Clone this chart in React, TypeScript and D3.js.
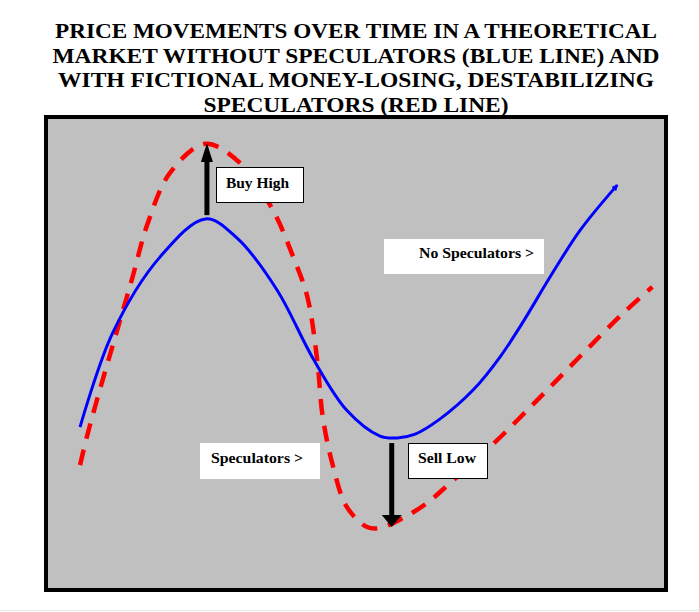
import React from "react";
import * as d3 from "d3";

const titleLines = [
  "PRICE MOVEMENTS OVER TIME IN A THEORETICAL",
  "MARKET WITHOUT SPECULATORS (BLUE LINE) AND",
  "WITH FICTIONAL MONEY-LOSING, DESTABILIZING",
  "SPECULATORS (RED LINE)",
];
const titleWidths = [602, 607, 596, 305];

// No speculators (blue) — time, price
const blueTime = [5.2, 10.5, 18.2, 25.6, 30.7, 37.2, 43.0, 48.5, 53.9, 56.7, 59.6, 63.6, 69.0, 73.4, 77.1, 81.5, 86.4, 92.4];
const bluePrice = [34.3, 54.4, 70.6, 78.7, 74.6, 63.5, 49.0, 37.9, 32.4, 32.0, 32.8, 36.0, 42.2, 49.3, 56.7, 66.3, 76.3, 85.9];

// Speculators (red)
const redTime = [5.2, 6.3, 8.4, 10.9, 13.6, 16.2, 19.8, 25.5, 31.2, 36.5, 39.8, 42.1, 43.7, 44.6, 46.3, 48.5, 51.8, 53.9, 57.6, 61.5, 65.3, 71.8, 79.9, 86.9, 92.9, 98.1];
const redPrice = [26.2, 32.2, 42.2, 53.5, 65.7, 77.8, 88.5, 94.7, 90.6, 80.6, 70.6, 62.1, 48.6, 36.5, 25.8, 17.3, 13.0, 12.8, 14.9, 18.1, 22.4, 30.1, 40.7, 50.1, 58.0, 64.2];

// Arrows: time, from price, to price
const buyHigh = { t: 25.8, from: 79.5, to: 94.9 };
const sellLow = { t: 55.8, from: 30.9, to: 13.0 };

export default function App() {
  const W = 699, H = 612;
  const x = d3.scaleLinear().domain([0, 100]).range([48, 664]);
  const y = d3.scaleLinear().domain([0, 100]).range([588, 119]);
  const line = d3
    .line<[number, number]>()
    .x((d) => x(d[0]))
    .y((d) => y(d[1]))
    .curve(d3.curveCatmullRom.alpha(0.5));
  const blue = line(blueTime.map((t, i) => [t, bluePrice[i]]));
  const red = line(redTime.map((t, i) => [t, redPrice[i]]));
  const serif = "'Liberation Serif', 'Times New Roman', 'DejaVu Serif', serif";

  const bhx = x(buyHigh.t);
  const bhTop = y(buyHigh.to);
  const bhBot = y(buyHigh.from);
  const slx = x(sellLow.t);
  const slTop = y(sellLow.from);
  const slBot = y(sellLow.to);
  const lab = { fontFamily: serif, fontWeight: "bold" as const, fontSize: 15 };

  return (
    <svg width={W} height={H} style={{ position: "absolute", left: 0, top: 0, background: "#fff" }}>
      <defs>
        <marker id="tip" viewBox="0 0 10 10" refX="8" refY="5" markerWidth="2.2" markerHeight="2.2" orient="auto">
          <path d="M0,0 L10,5 L0,10 z" fill="#0000ff" />
        </marker>
      </defs>
      {titleLines.map((s, i) => (
        <text
          key={i}
          x={356}
          y={38 + i * 24.5}
          textAnchor="middle"
          style={{ fontFamily: serif, fontWeight: "bold", fontSize: 21 }}
          textLength={titleWidths[i]}
          lengthAdjust="spacingAndGlyphs"
          fill="#000"
        >
          {s}
        </text>
      ))}
      <rect x={46} y={117} width={620} height={473} fill="#c0c0c0" stroke="#000" strokeWidth={4} />
      <line x1={0} x2={W} y1={610.5} y2={610.5} stroke="#e6e9ec" strokeWidth={1} />

      <path d={red || ""} fill="none" stroke="#ff0000" strokeWidth={4.5} strokeDasharray="16 11" />
      <path d={blue || ""} fill="none" stroke="#0000ff" strokeWidth={3} markerEnd="url(#tip)" />

      {/* Buy High arrow */}
      <line x1={bhx} x2={bhx} y1={bhBot} y2={bhTop + 16} stroke="#000" strokeWidth={5} />
      <path d={`M${bhx},${bhTop} L${bhx - 6},${bhTop + 19} L${bhx + 6},${bhTop + 19} Z`} fill="#000" />
      {/* Sell Low arrow */}
      <line x1={slx} x2={slx} y1={slTop} y2={slBot - 10} stroke="#000" strokeWidth={5} />
      <path d={`M${slx},${slBot} L${slx - 10},${slBot - 12} L${slx + 10},${slBot - 12} Z`} fill="#000" />

      {/* Labels */}
      <rect x={216.5} y={167.5} width={87} height={35} fill="#fff" stroke="#000" strokeWidth={1} />
      <text x={226} y={188} style={lab} textLength={63} lengthAdjust="spacingAndGlyphs">Buy High</text>

      <rect x={384} y={239} width={160} height={35} fill="#fff" />
      <text x={419} y={258} style={lab} textLength={115} lengthAdjust="spacingAndGlyphs">No Speculators &gt;</text>

      <rect x={200} y={443} width={120} height={36} fill="#fff" />
      <text x={211} y={463} style={lab} textLength={92} lengthAdjust="spacingAndGlyphs">Speculators &gt;</text>

      <rect x={408.5} y={443.5} width={79} height={35} fill="#fff" stroke="#000" strokeWidth={1} />
      <text x={418} y={463} style={lab} textLength={58} lengthAdjust="spacingAndGlyphs">Sell Low</text>
    </svg>
  );
}
